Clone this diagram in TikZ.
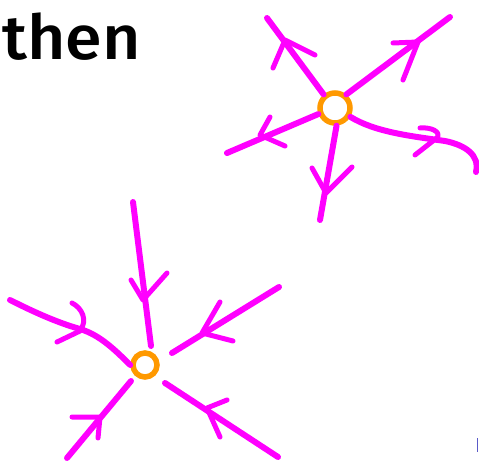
\documentclass[tikz,border=0pt]{standalone}
\usepackage{fontspec}
\newfontfamily\handfont{Fira Sans Medium}
\definecolor{penmag}{RGB}{255,0,255}
\definecolor{penorange}{RGB}{255,153,0}
\definecolor{penblue}{RGB}{90,90,200}
\begin{document}
\begin{tikzpicture}[x=1pt,y=-1pt,
  stroke/.style={draw=penmag,line width=6pt,line cap=round,line join=round},
  barb/.style={draw=penmag,line width=5pt,line cap=round,line join=round},
  hub/.style={circle,draw=penorange,line width=5.5pt,minimum size=30pt,inner sep=0pt},
  word/.style={font=\handfont\fontsize{62}{62}\selectfont,text=black,inner sep=0pt,anchor=base west,xscale=1.07}]
\useasboundingbox (0,0) rectangle (479,462);
\fill[white] (0,0) rectangle (479,462);
% text
\node[word] (then) at (2,60) {then};
% ---------- top star (source) ----------
\node[hub] (src) at (335,108) {};
\coordinate (s1) at (267,18);
\coordinate (s2) at (450,17);
\coordinate (s3) at (227,153);
\coordinate (s4) at (320,220);
\coordinate (s5) at (476,172);
\draw[stroke] (src.130) -- (s1);
\draw[barb] (273,68) -- (285,40) -- (315,55);
\draw[stroke] (src.50) -- (s2);
\draw[barb] (393,43) -- (418,42) -- (403,80);
\draw[stroke] (src.200) -- (s3);
\draw[barb] (270,117) -- (260,135) -- (285,146);
\draw[stroke] (src.275) -- (s4);
\draw[barb] (312,168) -- (326,193) -- (352,167);
\draw[stroke] (src.330) .. controls (375,132) and (410,136) .. (445,141) .. controls (465,145) and (480,155) .. (s5);
\draw[barb] (420,128) .. controls (432,127) and (440,132) .. (438,137) -- (415,155);
% ---------- bottom star (sink) ----------
\node[hub,minimum size=24pt] (snk) at (145,365) {};
\coordinate (t1) at (133,202);
\coordinate (t2) at (279,287);
\coordinate (t3) at (278,457);
\coordinate (t4) at (67,458);
\coordinate (t5) at (10,300);
\draw[stroke] (t1) -- (151,346);
\draw[barb] (131,280) -- (143,300) -- (167,273);
\draw[stroke] (t2) -- (172,353);
\draw[barb] (220,302) -- (202,333) -- (233,341);
\draw[stroke] (t3) -- (165,383);
\draw[barb] (227,400) -- (207,408) -- (220,437);
\draw[stroke] (t4) -- (131,381);
\draw[barb] (72,417) -- (100,417) -- (98,438);
\draw[stroke] (t5) .. controls (30,310) and (55,322) .. (80,329) .. controls (100,335) and (115,350) .. (snk.west);
\draw[barb] (72,303) .. controls (82,308) and (88,320) .. (80,331) -- (57,342);
% stray mark at right edge
\coordinate (m1) at (477.5,438);
\coordinate (m2) at (477.5,452);
\draw[penblue,line width=1.5pt] (m1) -- (m2);
\end{tikzpicture}
\end{document}
